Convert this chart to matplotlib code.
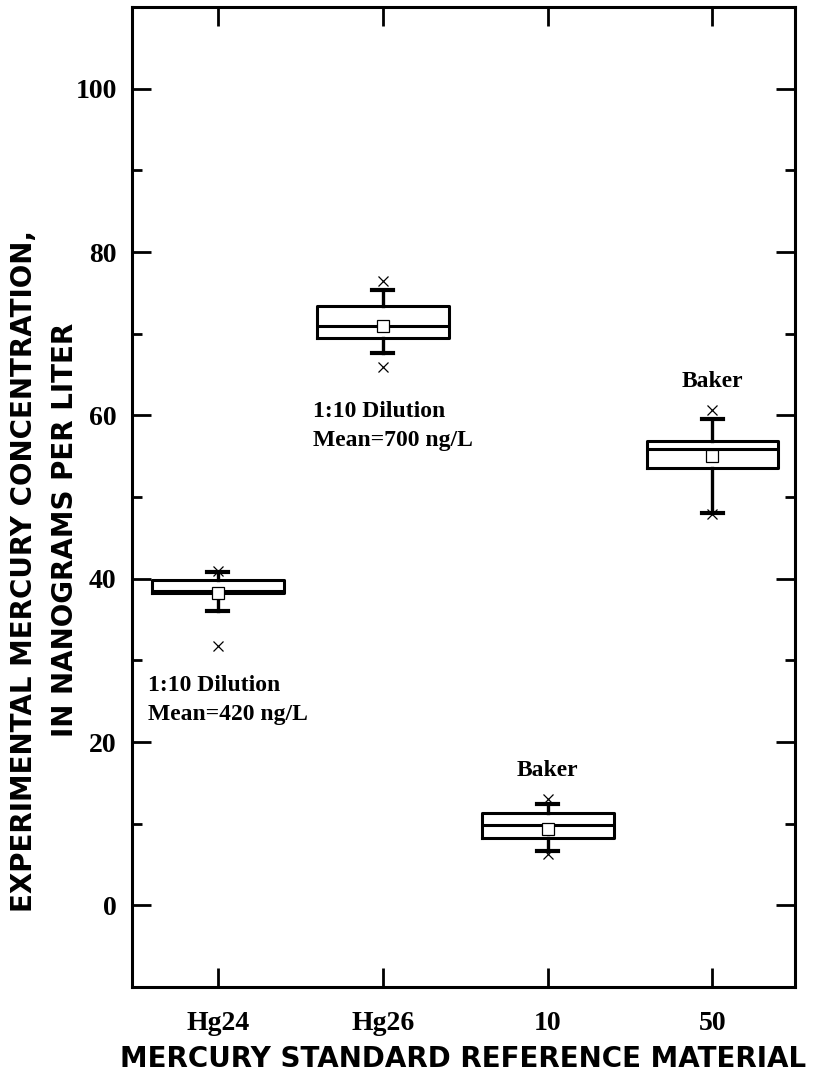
import numpy as np
import matplotlib.pyplot as plt

# box statistics (ng/L)
materials = ['Hg24', 'Hg26', '10', '50']
q1 = [38.2, 69.5, 8.2, 53.5]
median = [38.5, 71.0, 9.8, 55.9]
q3 = [39.8, 73.4, 11.3, 56.8]
whis_lo = [36.0, 67.6, 6.6, 48.0]
whis_hi = [40.8, 75.3, 12.4, 59.6]
means = [38.2, 71.0, 9.4, 55.0]
low_x = [31.8, 65.9, 6.3, 47.9]
high_x = [41.0, 76.4, 13.0, 60.6]

notes = ['1:10 Dilution\nMean=420 ng/L', '1:10 Dilution\nMean=700 ng/L', 'Baker', 'Baker']

serif = 'Liberation Serif'
sans = 'DejaVu Sans'

fig = plt.figure(figsize=(8.17, 10.82), dpi=100)
ax = fig.add_axes([0.1616, 0.0878, 0.8114, 0.9057])

pos = np.arange(1, len(materials) + 1)
stats = []
for i in range(len(materials)):
    stats.append(dict(med=median[i], q1=q1[i], q3=q3[i], whislo=whis_lo[i],
                      whishi=whis_hi[i], mean=means[i], fliers=[]))

ax.bxp(stats, positions=pos, widths=0.8, showmeans=True, showfliers=False,
       boxprops=dict(color='black', linewidth=2.2),
       medianprops=dict(color='black', linewidth=2.2),
       whiskerprops=dict(color='black', linewidth=2.4),
       capprops=dict(color='black', linewidth=3.0),
       capwidths=0.13,
       meanprops=dict(marker='s', markerfacecolor='white', markeredgecolor='black',
                      markersize=8.5, markeredgewidth=0.9))

ax.plot(pos, low_x, 'x', color='black', markersize=7, markeredgewidth=0.9)
ax.plot(pos, high_x, 'x', color='black', markersize=7, markeredgewidth=0.9)

ax.text(0.575, 25.2, notes[0], fontfamily=serif, fontweight='bold', fontsize=17,
        ha='left', va='center', linespacing=1.5)
ax.text(1.575, 58.7, notes[1], fontfamily=serif, fontweight='bold', fontsize=17,
        ha='left', va='center', linespacing=1.5)
ax.text(3, 16.5, notes[2], fontfamily=serif, fontweight='bold', fontsize=17,
        ha='center', va='center')
ax.text(4, 64.1, notes[3], fontfamily=serif, fontweight='bold', fontsize=17,
        ha='center', va='center')

ax.set_xlim(0.48, 4.5)
ax.set_ylim(-10, 110)
ax.set_xticks(pos)
ax.set_xticklabels(materials)
ax.set_yticks(np.arange(0, 101, 20))
ax.set_yticks(np.arange(-10, 111, 10), minor=True)

ax.tick_params(axis='both', which='both', direction='in', top=True, right=True, width=2)
ax.tick_params(axis='y', which='major', length=14, pad=11)
ax.tick_params(axis='y', which='minor', length=7)
ax.tick_params(axis='x', which='major', length=14, pad=17)
for lab in ax.get_xticklabels() + ax.get_yticklabels():
    lab.set_fontfamily(serif)
    lab.set_fontweight('bold')
    lab.set_fontsize(20)

for sp in ax.spines.values():
    sp.set_linewidth(2.2)

ax.set_xlabel('MERCURY STANDARD REFERENCE MATERIAL', fontfamily=sans,
              fontweight='bold', fontsize=20, labelpad=7)
# two y-label lines sit at slightly different heights in the original
fig.text(0.029, 0.472, 'EXPERIMENTAL MERCURY CONCENTRATION,', rotation=90,
         fontfamily=sans, fontweight='bold', fontsize=20, ha='center', va='center')
fig.text(0.080, 0.510, 'IN NANOGRAMS PER LITER', rotation=90,
         fontfamily=sans, fontweight='bold', fontsize=20, ha='center', va='center')

fig.savefig('out.png', dpi=100)
